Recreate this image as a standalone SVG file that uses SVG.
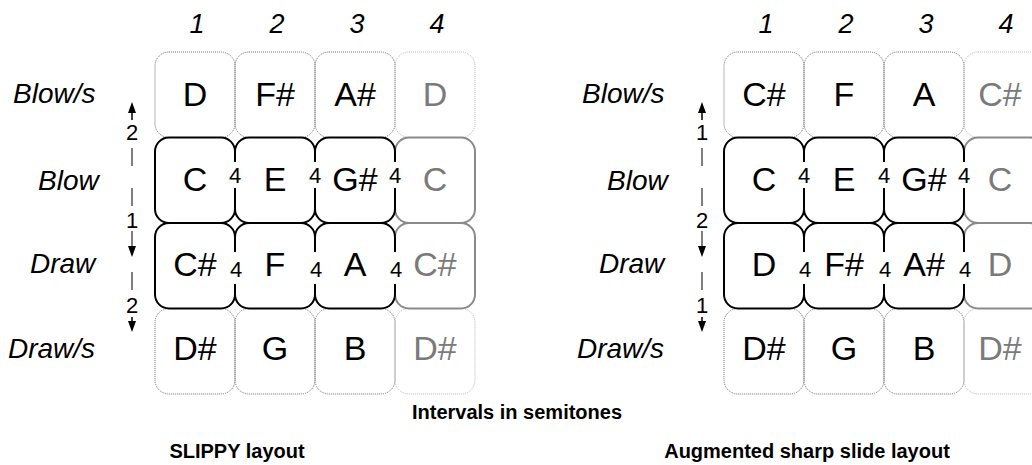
<svg xmlns="http://www.w3.org/2000/svg" width="1032" height="465" viewBox="0 0 1032 465">
<style>
.dot{fill:none;stroke:#6e6e6e;stroke-width:1;stroke-dasharray:1 1}
.dotl{fill:none;stroke:#b5b5b5;stroke-width:1;stroke-dasharray:1 1}
.sol{fill:none;stroke:#000;stroke-width:2}
.solg{fill:none;stroke:#8a8a8a;stroke-width:2}
text{font-family:"Liberation Sans",Arial,sans-serif}
.n{font-size:34px;text-anchor:middle;fill:#000}
.g{fill:#7a7a7a}
.lab{font-size:28px;font-style:italic;fill:#000}
.hd{font-size:27px;font-style:italic;text-anchor:middle;fill:#000}
.iv{font-size:22px;text-anchor:middle;fill:#000}
.ttl{font-size:20px;font-weight:bold;text-anchor:middle;fill:#000}
.dash{stroke:#555;stroke-width:1.5;stroke-dasharray:18 22}
.stem{stroke:#000;stroke-width:1.5}
.ah{fill:#000}
</style>
<rect width="1032" height="465" fill="#fff"/>

<!-- LEFT: SLIPPY -->
<g id="slippy-headers">
<text class="hd" x="197" y="33">1</text>
<text class="hd" x="277" y="33">2</text>
<text class="hd" x="357" y="33">3</text>
<text class="hd g" x="437" y="33">4</text>
</g>
<g id="slippy-rowlabels">
<text class="lab" x="13" y="103">Blow/s</text>
<text class="lab" x="38" y="190">Blow</text>
<text class="lab" x="30" y="273">Draw</text>
<text class="lab" x="8" y="358">Draw/s</text>
</g>

<g id="L-r0c0"><rect class="dot" x="155" y="52" width="80" height="85.5" rx="14"/><text class="n" x="195" y="106">D</text></g>
<g id="L-r0c1"><rect class="dot" x="235" y="52" width="80" height="85.5" rx="14"/><text class="n" x="275" y="106">F#</text></g>
<g id="L-r0c2"><rect class="dot" x="315" y="52" width="80" height="85.5" rx="14"/><text class="n" x="355" y="106">A#</text></g>
<g id="L-r0c3"><rect class="dotl" x="395" y="52" width="80" height="85.5" rx="14"/><text class="n g" x="435" y="106">D</text></g>
<g id="L-r3c0"><rect class="dot" x="155" y="308.5" width="80" height="85.5" rx="14"/><text class="n" x="195" y="360">D#</text></g>
<g id="L-r3c1"><rect class="dot" x="235" y="308.5" width="80" height="85.5" rx="14"/><text class="n" x="275" y="360">G</text></g>
<g id="L-r3c2"><rect class="dot" x="315" y="308.5" width="80" height="85.5" rx="14"/><text class="n" x="355" y="360">B</text></g>
<g id="L-r3c3"><rect class="dotl" x="395" y="308.5" width="80" height="85.5" rx="14"/><text class="n g" x="435" y="360">D#</text></g>
<g id="L-r1c3"><rect class="solg" x="395" y="137.5" width="80" height="85.5" rx="14"/><text class="n g" x="435" y="191">C</text></g>
<g id="L-r2c3"><rect class="solg" x="395" y="223" width="80" height="85.5" rx="14"/><text class="n g" x="435" y="276">C#</text></g>
<g id="L-r1c0"><rect class="sol" x="155" y="137.5" width="80" height="85.5" rx="14"/><text class="n" x="195" y="191">C</text></g>
<g id="L-r1c1"><rect class="sol" x="235" y="137.5" width="80" height="85.5" rx="14"/><text class="n" x="275" y="191">E</text></g>
<g id="L-r1c2"><rect class="sol" x="315" y="137.5" width="80" height="85.5" rx="14"/><text class="n" x="355" y="191">G#</text></g>
<g id="L-r2c0"><rect class="sol" x="155" y="223" width="80" height="85.5" rx="14"/><text class="n" x="195" y="276">C#</text></g>
<g id="L-r2c1"><rect class="sol" x="235" y="223" width="80" height="85.5" rx="14"/><text class="n" x="275" y="276">F</text></g>
<g id="L-r2c2"><rect class="sol" x="315" y="223" width="80" height="85.5" rx="14"/><text class="n" x="355" y="276">A</text></g>

<!-- RIGHT: Augmented -->
<g id="aug-headers">
<text class="hd" x="766" y="33">1</text>
<text class="hd" x="846" y="33">2</text>
<text class="hd" x="926" y="33">3</text>
<text class="hd g" x="1006" y="33">4</text>
</g>
<g id="aug-rowlabels">
<text class="lab" x="582" y="103">Blow/s</text>
<text class="lab" x="607" y="190">Blow</text>
<text class="lab" x="599" y="273">Draw</text>
<text class="lab" x="577" y="358">Draw/s</text>
</g>

<g id="R-r0c0"><rect class="dot" x="724" y="52" width="80" height="85.5" rx="14"/><text class="n" x="764" y="106">C#</text></g>
<g id="R-r0c1"><rect class="dot" x="804" y="52" width="80" height="85.5" rx="14"/><text class="n" x="844" y="106">F</text></g>
<g id="R-r0c2"><rect class="dot" x="884" y="52" width="80" height="85.5" rx="14"/><text class="n" x="924" y="106">A</text></g>
<g id="R-r0c3"><rect class="dotl" x="964" y="52" width="80" height="85.5" rx="14"/><text class="n g" x="1000" y="106">C#</text></g>
<g id="R-r3c0"><rect class="dot" x="724" y="308.5" width="80" height="85.5" rx="14"/><text class="n" x="764" y="360">D#</text></g>
<g id="R-r3c1"><rect class="dot" x="804" y="308.5" width="80" height="85.5" rx="14"/><text class="n" x="844" y="360">G</text></g>
<g id="R-r3c2"><rect class="dot" x="884" y="308.5" width="80" height="85.5" rx="14"/><text class="n" x="924" y="360">B</text></g>
<g id="R-r3c3"><rect class="dotl" x="964" y="308.5" width="80" height="85.5" rx="14"/><text class="n g" x="1000" y="360">D#</text></g>
<g id="R-r1c3"><rect class="solg" x="964" y="137.5" width="80" height="85.5" rx="14"/><text class="n g" x="1000" y="191">C</text></g>
<g id="R-r2c3"><rect class="solg" x="964" y="223" width="80" height="85.5" rx="14"/><text class="n g" x="1000" y="276">D</text></g>
<g id="R-r1c0"><rect class="sol" x="724" y="137.5" width="80" height="85.5" rx="14"/><text class="n" x="764" y="191">C</text></g>
<g id="R-r1c1"><rect class="sol" x="804" y="137.5" width="80" height="85.5" rx="14"/><text class="n" x="844" y="191">E</text></g>
<g id="R-r1c2"><rect class="sol" x="884" y="137.5" width="80" height="85.5" rx="14"/><text class="n" x="924" y="191">G#</text></g>
<g id="R-r2c0"><rect class="sol" x="724" y="223" width="80" height="85.5" rx="14"/><text class="n" x="764" y="276">D</text></g>
<g id="R-r2c1"><rect class="sol" x="804" y="223" width="80" height="85.5" rx="14"/><text class="n" x="844" y="276">F#</text></g>
<g id="R-r2c2"><rect class="sol" x="884" y="223" width="80" height="85.5" rx="14"/><text class="n" x="924" y="276">A#</text></g>

<g id="connectors">
<g fill="#fff">
<rect x="228" y="162" width="15" height="26"/><rect x="308" y="162" width="15" height="26"/><rect x="388" y="162" width="15" height="26"/>
<rect x="228" y="252" width="16" height="32"/><rect x="308" y="252" width="16" height="32"/><rect x="388" y="252" width="16" height="32"/>
<rect x="797" y="162" width="15" height="26"/><rect x="877" y="162" width="15" height="26"/><rect x="957" y="162" width="15" height="26"/>
<rect x="797" y="252" width="16" height="32"/><rect x="877" y="252" width="16" height="32"/><rect x="957" y="252" width="16" height="32"/>
</g>
<text class="iv" x="235" y="183">4</text><text class="iv" x="315" y="183">4</text><text class="iv" x="395" y="183">4</text>
<text class="iv" x="236" y="277">4</text><text class="iv" x="316" y="277">4</text><text class="iv" x="396" y="277">4</text>
<text class="iv" x="804" y="183">4</text><text class="iv" x="884" y="183">4</text><text class="iv" x="964" y="183">4</text>
<text class="iv" x="805" y="277">4</text><text class="iv" x="885" y="277">4</text><text class="iv" x="965" y="277">4</text>

<!-- left vertical intervals -->
<line class="stem" x1="132" y1="120" x2="132" y2="110"/>
<polygon class="ah" points="128,113 136,113 132,102"/>
<text class="iv" x="132" y="140">2</text>
<line class="dash" x1="132" y1="148" x2="132" y2="210"/>
<text class="iv" x="132" y="228">1</text>
<line class="dash" x1="132" y1="231" x2="132" y2="247"/>
<polygon class="ah" points="128,246 136,246 132,257"/>
<line class="dash" x1="132" y1="272" x2="132" y2="294"/>
<text class="iv" x="132" y="313">2</text>
<line class="stem" x1="132" y1="317" x2="132" y2="323"/>
<polygon class="ah" points="128,321 136,321 132,332"/>

<!-- right vertical intervals -->
<line class="stem" x1="702" y1="120" x2="702" y2="110"/>
<polygon class="ah" points="698,113 706,113 702,102"/>
<text class="iv" x="702" y="140">1</text>
<line class="dash" x1="702" y1="148" x2="702" y2="210"/>
<text class="iv" x="702" y="228">2</text>
<line class="dash" x1="702" y1="231" x2="702" y2="247"/>
<polygon class="ah" points="698,246 706,246 702,257"/>
<line class="dash" x1="702" y1="272" x2="702" y2="294"/>
<text class="iv" x="702" y="313">1</text>
<line class="stem" x1="702" y1="317" x2="702" y2="323"/>
<polygon class="ah" points="698,321 706,321 702,332"/>
</g>

<g id="captions">
<text class="ttl" x="517" y="419">Intervals in semitones</text>
<text class="ttl" x="237" y="458">SLIPPY layout</text>
<text class="ttl" x="807" y="458">Augmented sharp slide layout</text>
</g>
</svg>
